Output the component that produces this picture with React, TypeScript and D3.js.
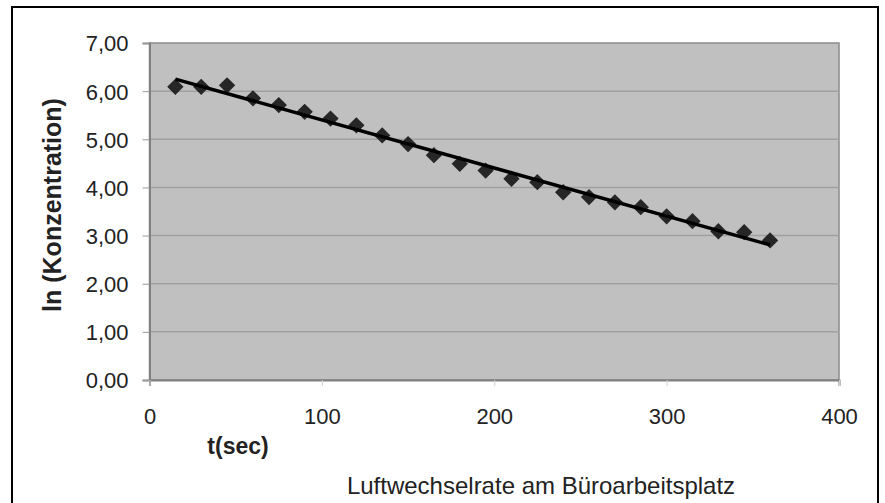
import React, { useEffect, useRef } from 'react';
import * as d3 from 'd3';

// Messzeitpunkte (s) und ln der Konzentration
const zeit = [15, 30, 45, 60, 75, 90, 105, 120, 135, 150, 165, 180, 195, 210, 225, 240, 255, 270, 285, 300, 315, 330, 345, 360];
const lnKonz = [6.09, 6.09, 6.12, 5.85, 5.71, 5.57, 5.43, 5.29, 5.08, 4.9, 4.67, 4.49, 4.35, 4.18, 4.11, 3.9, 3.8, 3.69, 3.59, 3.4, 3.3, 3.09, 3.07, 2.9];
const xTicks = [0, 100, 200, 300, 400];
const yTicks = [0, 1, 2, 3, 4, 5, 6, 7];

const App = () => {
  const ref = useRef<SVGSVGElement | null>(null);

  useEffect(() => {
    const W = 885;
    const H = 503;
    const plot = { left: 149.5, right: 839, top: 43, bottom: 380 };
    const font = "'Liberation Sans', Arial, sans-serif";

    const svg = d3.select(ref.current);
    svg.selectAll('*').remove();

    const x = d3.scaleLinear().domain([0, 400]).range([plot.left, plot.right]);
    const y = d3.scaleLinear().domain([0, 7]).range([plot.bottom, plot.top]);

    // Rahmen
    svg.append('rect').attr('width', W).attr('height', H).attr('fill', '#fff');
    svg
      .append('rect')
      .attr('x', 12)
      .attr('y', 7)
      .attr('width', 866)
      .attr('height', 520)
      .attr('fill', 'none')
      .attr('stroke', '#000')
      .attr('stroke-width', 2);

    // Plotfläche
    svg
      .append('rect')
      .attr('x', plot.left)
      .attr('y', plot.top)
      .attr('width', plot.right - plot.left)
      .attr('height', plot.bottom - plot.top)
      .attr('fill', '#c0c0c0')
      .attr('stroke', '#8a8a8a')
      .attr('stroke-width', 1.5);

    // Gitterlinien
    svg
      .append('g')
      .selectAll('line')
      .data(yTicks.filter(d => d > 0 && d < 7))
      .enter()
      .append('line')
      .attr('x1', plot.left)
      .attr('x2', plot.right)
      .attr('y1', d => y(d))
      .attr('y2', d => y(d))
      .attr('stroke', '#a0a0a0')
      .attr('stroke-width', 1.5);

    // y-Achse
    const yAxis = svg
      .append('g')
      .attr('transform', `translate(${plot.left},0)`)
      .call(d3.axisLeft(y).tickValues(yTicks).tickSize(7).tickPadding(14).tickFormat(d => d3.format('.2f')(d as number).replace('.', ',')));
    yAxis.select('.domain').attr('stroke', '#808080').attr('stroke-width', 2);
    yAxis.selectAll('.tick line').attr('stroke', '#9a9a9a');
    yAxis.selectAll('text').attr('font-family', font).attr('font-size', 22).attr('fill', '#222').attr('dy', '0.36em');

    // x-Achse
    const xAxis = svg
      .append('g')
      .attr('transform', `translate(0,${plot.bottom})`)
      .call(d3.axisBottom(x).tickValues(xTicks).tickSize(6).tickPadding(22).tickFormat(d3.format('d')));
    xAxis.select('.domain').attr('stroke', '#808080').attr('stroke-width', 2);
    xAxis.selectAll('.tick line').attr('stroke', '#d0d0d0');
    xAxis.selectAll('text').attr('font-family', font).attr('font-size', 22).attr('fill', '#222');

    // Trendlinie (lineare Regression)
    const mx = d3.mean(zeit) as number;
    const my = d3.mean(lnKonz) as number;
    const slope =
      d3.sum(zeit, (t, i) => (t - mx) * (lnKonz[i] - my)) / d3.sum(zeit, t => (t - mx) * (t - mx));
    const icpt = my - slope * mx;
    const ends = [d3.min(zeit) as number, d3.max(zeit) as number];

    // Messpunkte
    svg
      .append('g')
      .selectAll('path')
      .data(zeit)
      .enter()
      .append('path')
      .attr('d', d3.symbol(d3.symbolDiamond2, 170)())
      .attr('transform', (t, i) => `translate(${x(t)},${y(lnKonz[i])})`)
      .attr('fill', '#262626');

    svg
      .append('path')
      .datum(ends)
      .attr('fill', 'none')
      .attr('stroke', '#000')
      .attr('stroke-width', 3.5)
      .attr('d', d3.line<number>().x(t => x(t)).y(t => y(icpt + slope * t)));

    // Beschriftungen
    svg
      .append('text')
      .attr('transform', 'translate(61,205) rotate(-90)')
      .attr('text-anchor', 'middle')
      .attr('font-family', font)
      .attr('font-weight', 'bold')
      .attr('font-size', 25)
      .attr('fill', '#222')
      .text('ln (Konzentration)');

    svg
      .append('text')
      .attr('x', 238)
      .attr('y', 454)
      .attr('text-anchor', 'middle')
      .attr('font-family', font)
      .attr('font-weight', 'bold')
      .attr('font-size', 23)
      .attr('fill', '#222')
      .text('t(sec)');

    svg
      .append('text')
      .attr('x', 541)
      .attr('y', 494)
      .attr('text-anchor', 'middle')
      .attr('font-family', font)
      .attr('font-size', 24)
      .attr('fill', '#222')
      .text('Luftwechselrate am Büroarbeitsplatz');
  }, []);

  return (
    <svg
      ref={ref}
      width={885}
      height={503}
      style={{ position: 'absolute', left: 0, top: 0, display: 'block' }}
    />
  );
};

export default App;
